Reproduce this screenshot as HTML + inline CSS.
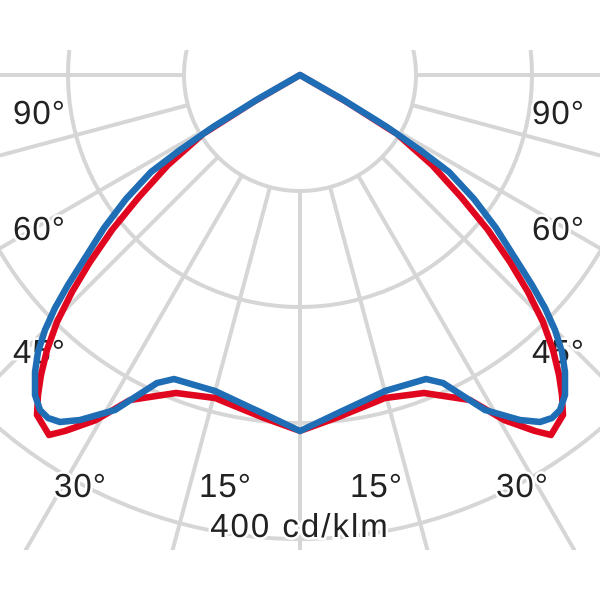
<!DOCTYPE html>
<html><head><style>html,body{margin:0;padding:0;background:#fff;overflow:hidden;width:600px;height:600px}svg{display:block}</style></head>
<body>
<svg width="600" height="600" viewBox="0 0 600 600" xmlns="http://www.w3.org/2000/svg">
<defs><clipPath id="c"><rect x="0" y="50" width="600" height="500"/></clipPath>
<clipPath id="o"><path d="M0 0H600V550H0Z M184 75 A116 116 0 0 0 416 75 A116 116 0 0 0 184 75Z" clip-rule="evenodd"/></clipPath></defs>
<g clip-path="url(#c)" stroke="#d6d6d6" stroke-width="4" fill="none">
<circle cx="300" cy="75" r="116"/>
<circle cx="300" cy="75" r="232"/>
<circle cx="300" cy="75" r="348"/>
<circle cx="300" cy="75" r="464"/>
<g clip-path="url(#o)">
<line x1="300" y1="75" x2="300" y2="700"/>
<line x1="300" y1="75" x2="462" y2="679"/><line x1="300" y1="75" x2="138" y2="679"/>
<line x1="300" y1="75" x2="613" y2="617"/><line x1="300" y1="75" x2="-13" y2="617"/>
<line x1="300" y1="75" x2="742" y2="517"/><line x1="300" y1="75" x2="-142" y2="517"/>
<line x1="300" y1="75" x2="842" y2="388"/><line x1="300" y1="75" x2="-242" y2="388"/>
<line x1="300" y1="75" x2="904" y2="237"/><line x1="300" y1="75" x2="-304" y2="237"/>
<line x1="300" y1="75" x2="925" y2="75"/><line x1="300" y1="75" x2="-325" y2="75"/>
</g>
</g>
<g font-family="Liberation Sans, sans-serif" font-size="33" letter-spacing="1" fill="#222" stroke="#fff" stroke-width="5" paint-order="stroke">
<text x="13" y="124">90°</text><text x="532" y="124">90°</text>
<text x="13" y="240">60°</text><text x="532" y="240">60°</text>
<text x="13" y="363">45°</text><text x="532" y="363">45°</text>
<text x="54" y="497">30°</text><text x="496" y="497">30°</text>
<text x="199" y="497">15°</text><text x="350" y="497">15°</text>
<text x="300" y="537" text-anchor="middle" letter-spacing="2">400 cd/klm</text>
</g>
<g fill="none" stroke-width="6.5" stroke-linejoin="round" stroke-linecap="round">
<path stroke="#e0061f" d="M300 75 L255 101 L203 134 L168 165 L139 197 L112 230 L90 262 L72 292 L57 322 L47 350 L41 375 L38 395 L37 415 L49 435 L65 431 L96 420 L130 400 L176 393 L215 398 L264 418 L300 431 L336 418 L385 398 L424 393 L470 400 L504 420 L535 431 L551 435 L563 415 L562 395 L559 375 L553 350 L543 322 L528 292 L510 262 L488 230 L461 197 L432 165 L397 134 L345 101 Z"/>
<path stroke="#1f6db5" d="M300 75 L258 99 L213 127 L180 150 L151 172 L126 199 L104 228 L85 258 L68 285 L55 308 L45 330 L38 352 L35 372 L35 395 L40 410 L48 418 L60 422 L80 420 L115 410 L157 383 L174 379 L215 391 L260 412 L300 431 L340 412 L385 391 L426 379 L443 383 L485 410 L520 420 L540 422 L552 418 L560 410 L565 395 L565 372 L562 352 L555 330 L545 308 L532 285 L515 258 L496 228 L474 199 L449 172 L420 150 L387 127 L342 99 Z"/>
</g>
</svg>
</body></html>
